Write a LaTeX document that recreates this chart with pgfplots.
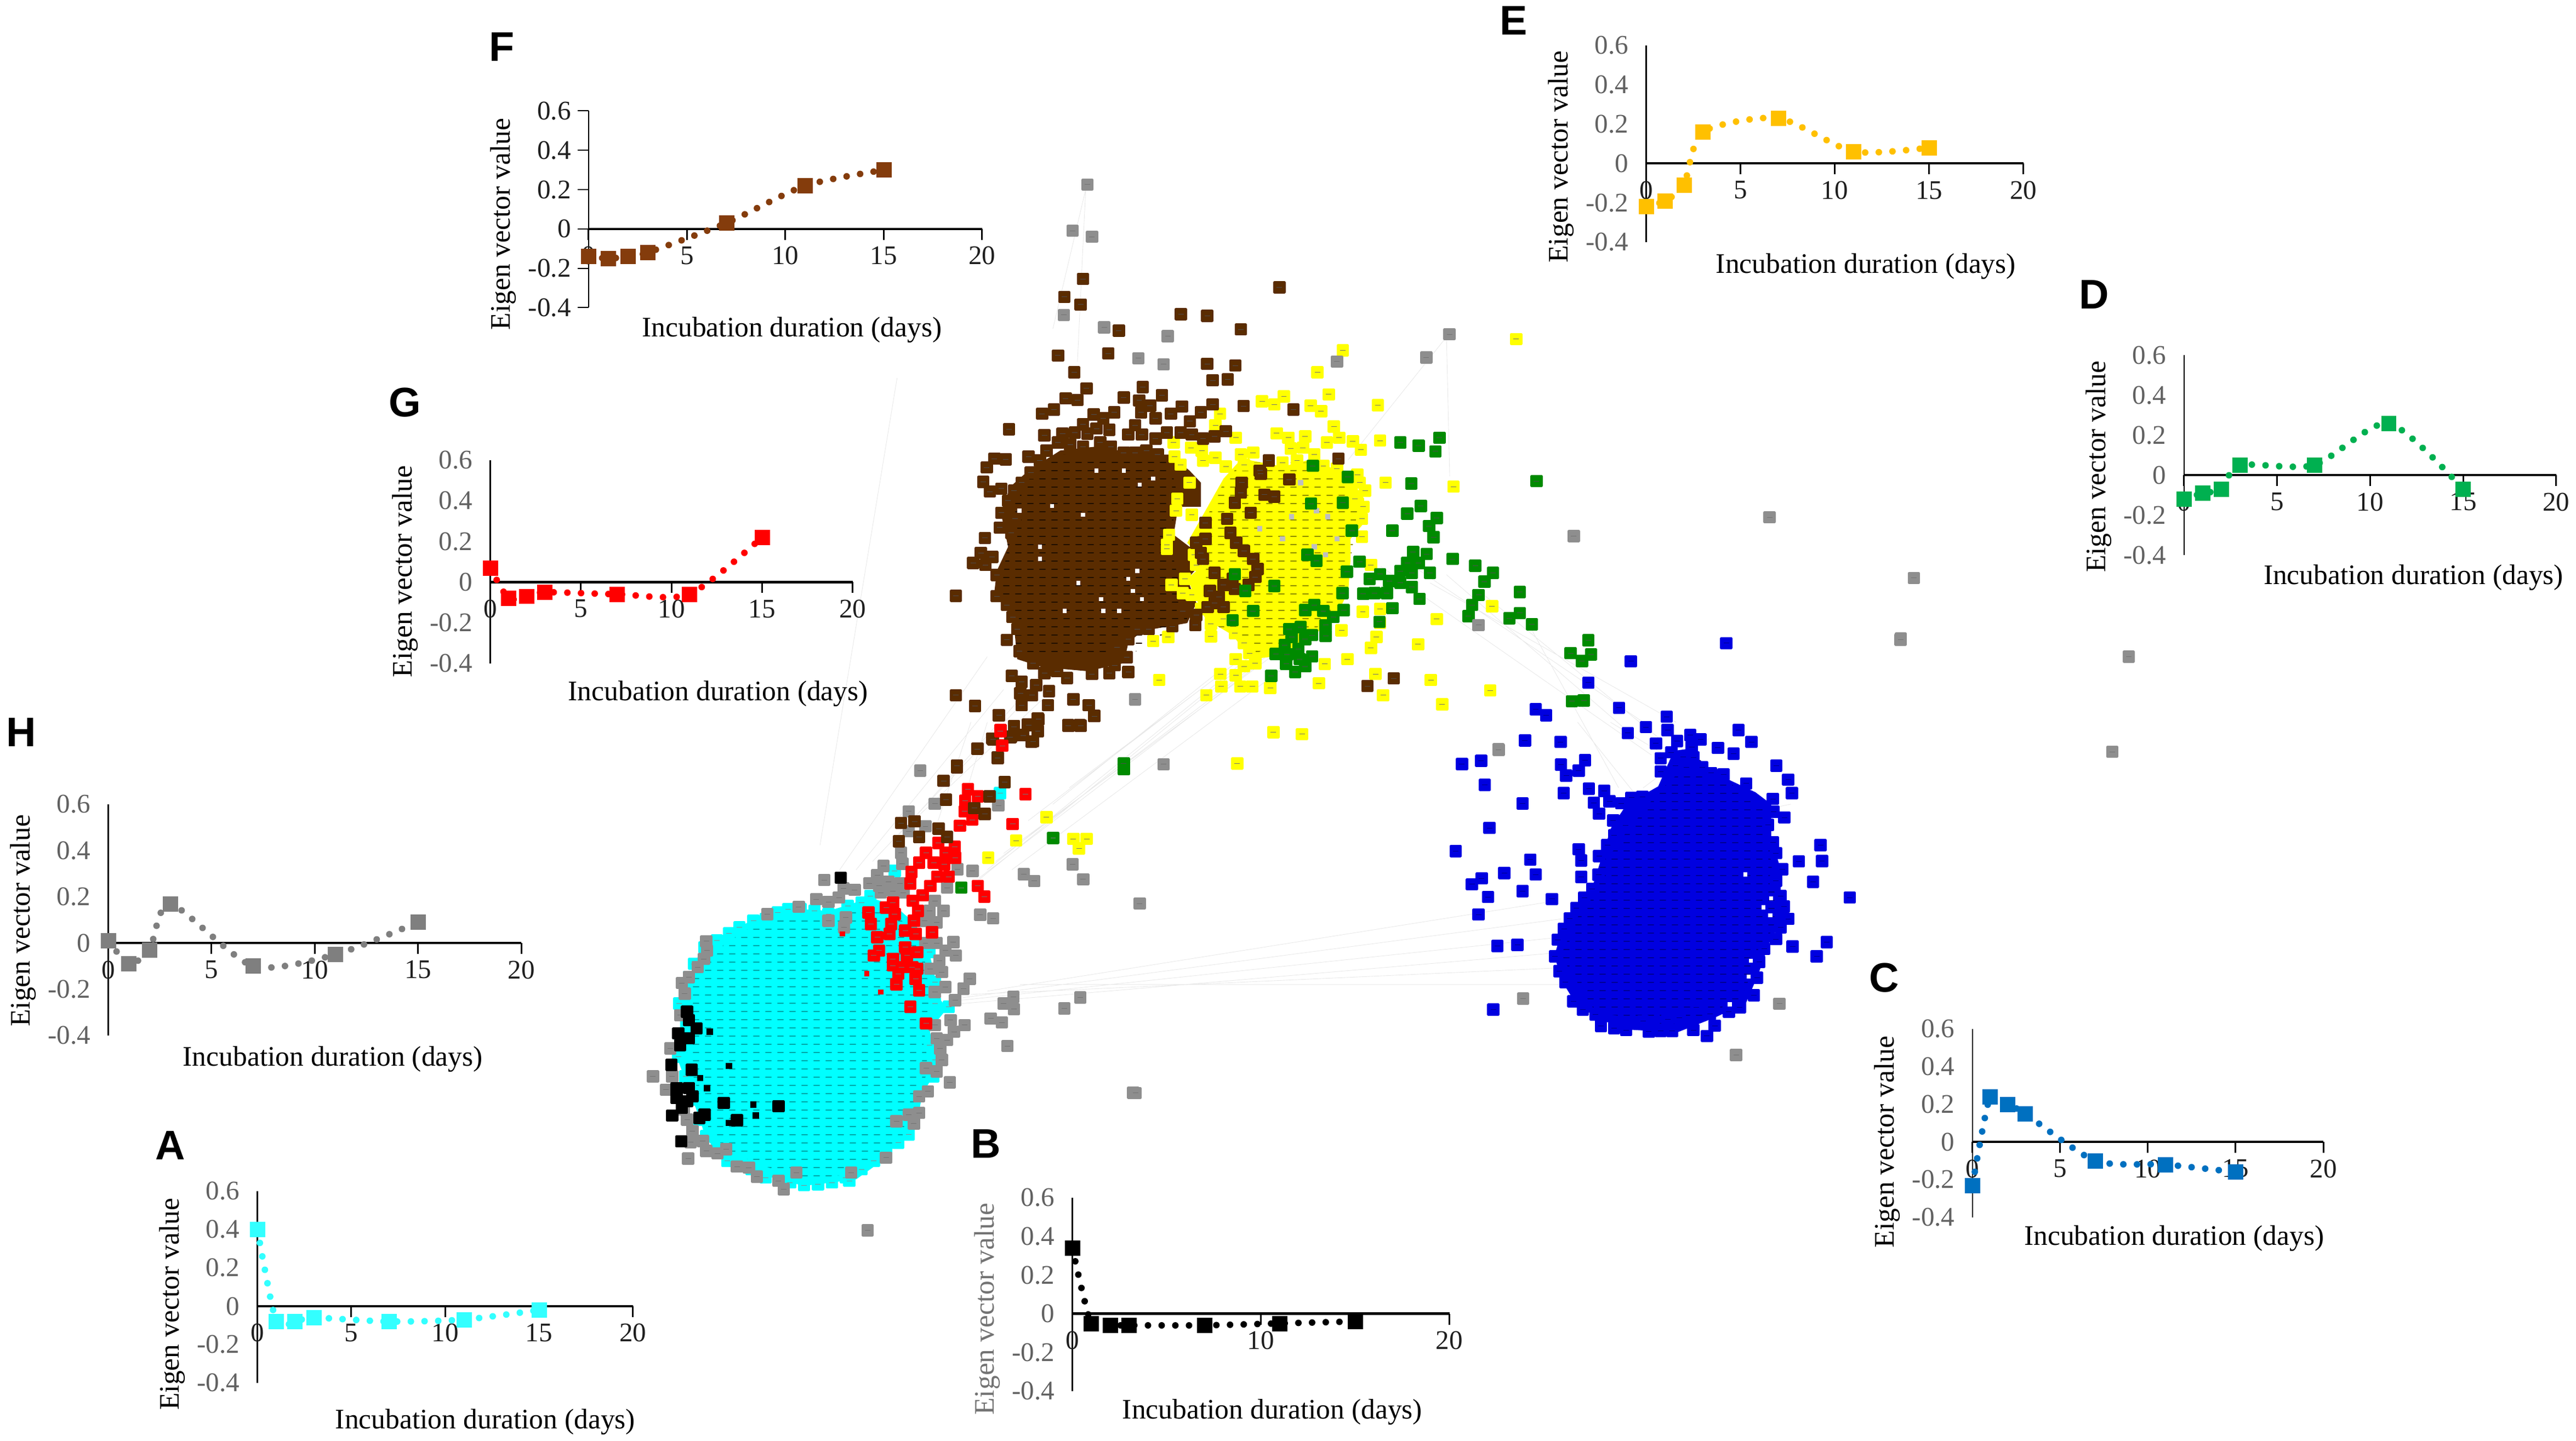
\documentclass[border=0pt]{standalone}
\usepackage{fontspec}
\setmainfont{Liberation Serif}
\newfontfamily\panelfont{Liberation Sans}
\usepackage{pgfplots}
\pgfplotsset{compat=1.18}
\usepackage{pgfplotstable}
\usetikzlibrary{patterns}

\definecolor{nodegray}{HTML}{8E8E8E}
\definecolor{nodebrown}{HTML}{5A2C00}
\definecolor{nodegreen}{HTML}{008A00}
\definecolor{nodeblue}{HTML}{0000E0}
\definecolor{nodecyan}{HTML}{00FFFF}
\definecolor{nodeyellow}{HTML}{FFFF00}
\definecolor{nodered}{HTML}{FF0000}
\definecolor{lineA}{HTML}{33FFFF}
\definecolor{lineC}{HTML}{0070C0}
\definecolor{lineD}{HTML}{00B050}
\definecolor{lineE}{HTML}{FFC000}
\definecolor{lineF}{HTML}{843C0C}
\definecolor{lineH}{HTML}{7F7F7F}

% tiny node labels inside the dense clusters
\pgfdeclarepatternformonly{labels}{\pgfqpoint{0pt}{0pt}}{\pgfqpoint{6.2pt}{4.4pt}}{\pgfqpoint{6.2pt}{4.4pt}}{%
  \pgfpathrectangle{\pgfqpoint{1pt}{1.5pt}}{\pgfqpoint{3.2pt}{0.55pt}}\pgfusepath{fill}}

% values: day, eigen vector value
\pgfplotstableread{
0 0.40
1 -0.08
2 -0.08
3 -0.06
7 -0.08
11 -0.07
15 -0.02
}\dataA
\pgfplotstableread{
0 0.34
1 -0.05
2 -0.06
3 -0.06
7 -0.06
11 -0.05
15 -0.04
}\dataB
\pgfplotstableread{
0 -0.23
1 0.24
2 0.20
3 0.15
7 -0.10
11 -0.12
15 -0.16
}\dataC
\pgfplotstableread{
0 -0.12
1 -0.09
2 -0.07
3 0.05
7 0.05
11 0.26
15 -0.07
}\dataD
\pgfplotstableread{
0 -0.22
1 -0.19
2 -0.11
3 0.16
7 0.23
11 0.06
15 0.08
}\dataE
\pgfplotstableread{
0 -0.14
1 -0.15
2 -0.14
3 -0.12
7 0.03
11 0.22
15 0.30
}\dataF
\pgfplotstableread{
0 0.07
1 -0.08
2 -0.07
3 -0.05
7 -0.06
11 -0.06
15 0.22
}\dataG
\pgfplotstableread{
0 0.01
1 -0.09
2 -0.03
3 0.17
7 -0.10
11 -0.05
15 0.09
}\dataH

\pgfplotsset{
  layer/.style n args={4}{scale only axis, hide axis, clip=false, at={(#1cm,#2cm)},
    width=#3cm, height=#4cm, xmin=0, xmax=1568, ymin=0, ymax=1568, y dir=reverse},
  netnode/.style={only marks, mark=square*, mark size=0.088cm,
    mark options={draw=#1, fill=#1, line width=0.05cm, line join=round}},
  netlabel/.style={only marks, mark=-, mark size=0.05cm,
    mark options={draw=#1, line width=0.25pt}},
  blob/.style={fill=#1, draw=none},
  % x0, y top, x1, y bottom, xlabel x, y, ylabel x, y: all in picture units
  geom/.code n args={8}{%
    \pgfmathsetmacro\pw{(#3-#1)*0.029974}%
    \pgfmathsetmacro\ph{(#4-#2)*0.029974}%
    \pgfmathsetmacro\px{#1*0.029974}%
    \pgfmathsetmacro\py{(876.8-#4)*0.029974}%
    \pgfmathsetmacro\lxa{(#5-#1)/(#3-#1)}%
    \pgfmathsetmacro\lya{(#4-#6)/(#4-#2)}%
    \pgfmathsetmacro\lxb{(#7-#1)/(#3-#1)}%
    \pgfmathsetmacro\lyb{(#4-#8)/(#4-#2)}%
    \pgfplotsset{width=\pw cm, height=\ph cm, at={(\px cm,\py cm)},
      every axis x label/.style={at={(axis description cs:\lxa,\lya)}, anchor=center, yshift=-0.05cm,
        font=\fontsize{14.7}{16}\selectfont},
      every axis y label/.style={at={(axis description cs:\lxb,\lyb)}, rotate=90, anchor=center,
        font=\fontsize{14.7}{16}\selectfont}}},
  panel/.style={scale only axis, clip=false, axis lines=middle, axis line style={-},
    x axis line style={line width=0.045cm}, y axis line style={line width=0.025cm},
    xmin=0, xmax=20, ymin=-0.4, ymax=0.6,
    xtick={0,5,10,15,20}, xticklabels={0,5,10,15,20},
    ytick={-0.4,-0.2,0,0.2,0.4,0.6}, yticklabels={-0.4,-0.2,0,0.2,0.4,0.6},
    hide obscured x ticks=false, hide obscured y ticks=false,
    tick align=outside, major tick length=0.2cm,
    x tick style={black, line width=0.03cm}, ytick style={draw=none},
    xticklabel style={font=\fontsize{14}{16}\selectfont, text=black!88},
    yticklabel style={font=\fontsize{14}{16}\selectfont, text=black!62},
    xlabel={Incubation duration (days)}, ylabel={Eigen vector value}},
  curve/.style={color=#1, smooth, tension=0.42, line width=0.12cm, line cap=round,
    dash pattern=on 0pt off 0.25cm, mark=square*, mark size=0.135cm,
    mark options={solid, line width=0.005cm}},
}
\newcommand\nodes[3][black!55]{%
  \addplot[netnode=#2] coordinates {#3};
  \addplot[netlabel=#1] coordinates {#3};}

\begin{document}
\begin{tikzpicture}
% whole picture, in 1568-wide picture units: edges, outliers and panel letters
\begin{axis}[scale only axis, hide axis, clip=false, at={(0cm,0cm)}, width=47cm, height=26.28cm,
  xmin=0, xmax=1568, ymin=0, ymax=876.8, y dir=reverse]
\addplot[black!9, line width=0.25pt, unbounded coords=jump] coordinates {
 (498,515) (545,230) (nan,nan) (510,530) (600,400) (nan,nan) (520,530) (610,420) (nan,nan)
 (530,525) (620,430) (nan,nan) (545,510) (625,420) (nan,nan) (555,500) (640,420) (nan,nan)
 (600,530) (760,400) (nan,nan) (605,525) (770,400) (nan,nan) (610,520) (780,395) (nan,nan)
 (615,530) (790,400) (nan,nan) (590,540) (750,410) (nan,nan) (625,500) (730,420) (nan,nan)
 (640,490) (740,410) (nan,nan) (650,480) (750,405) (nan,nan) (595,535) (765,405) (nan,nan)
 (580,610) (960,570) (nan,nan) (580,612) (955,580) (nan,nan) (585,608) (950,560) (nan,nan)
 (590,606) (945,590) (nan,nan) (600,604) (940,550) (nan,nan) (620,600) (960,600) (nan,nan)
 (860,345) (1000,440) (nan,nan) (880,350) (990,445) (nan,nan) (900,360) (1010,450) (nan,nan)
 (870,355) (1020,440) (nan,nan) (840,345) (1005,460) (nan,nan) (930,380) (985,480) (nan,nan)
 (820,280) (880,205) (nan,nan) (880,205) (882,290) (nan,nan) (660,115) (640,200) (nan,nan)
 (660,115) (655,220) (nan,nan) (960,440) (1000,490) (nan,nan) (980,440) (1030,470) (nan,nan)
 (1040,450) (1000,480) (nan,nan) (1090,490) (1040,500) (nan,nan) (590,440) (570,500) (nan,nan)
 (600,440) (585,490)
};
\nodes{nodegray}{(1165,352)(1157,389)(1296,400)(1286,458)(1077,315)(689,666)(527,750)}
\foreach \l/\x/\y in {A/102/698,B/599/697,C/1147/596,D/1275/179,E/921/12,F/304/28,G/245/245,H/11/446}{
  \edef\temp{\noexpand\node[font=\noexpand\panelfont\noexpand\bfseries\noexpand\fontsize{21.5}{24}\noexpand\selectfont] at (axis cs:\x,\y) {\l};}\temp}
\end{axis}

% dense left cluster, in the units of a 1000x950 window
\begin{axis}[layer={11}{3.78}{10}{9.5}]
\addplot[blob=nodecyan] coordinates {(215,880)(240,800)(265,740)(310,690)(350,665)(420,630)(490,605)(560,595)(640,600)(690,585)(760,560)(830,585)(890,640)(930,730)(945,800)(955,860)(980,895)(930,960)(945,1040)(940,1100)(910,1150)(895,1230)(880,1275)(830,1310)(800,1350)(720,1410)(650,1420)(570,1430)(490,1410)(430,1385)(350,1350)(290,1290)(265,1210)(240,1140)(205,1040)(215,950)} -- cycle;
\addplot[draw=none, pattern=labels, pattern color=black!35!nodecyan] coordinates {(240,880)(265,760)(330,700)(420,650)(560,610)(680,610)(760,590)(830,610)(880,660)(915,740)(930,860)(915,960)(925,1090)(890,1150)(870,1270)(790,1330)(700,1395)(570,1410)(440,1365)(360,1330)(300,1270)(280,1190)(235,1040)} -- cycle;
\nodes[black!45]{nodecyan}{(355,668)(385,650)(425,630)(460,625)(495,605)(525,595)(560,595)(600,600)(640,610)(695,585)(735,575)(760,555)(830,480)(1132,245)(700,1415)(735,1380)(770,1355)(805,1330)(840,1300)(870,1275)(570,1428)(610,1425)(650,1420)(690,1405)(460,1405)(500,1415)(530,1420)(350,1355)(390,1365)(420,1380)(320,1320)(290,1280)(270,1230)(250,1170)(230,1100)(210,1040)(215,980)(212,880)(240,800)(255,760)(285,710)(320,690)(940,1100)(945,1050)(930,1005)(985,890)(945,880)(945,815)(930,725)}
\nodes{nodegray}{(903,177)(945,277)(1127,282)(870,300)(918,345)(870,360)(848,425)(852,458)(798,465)(780,492)(628,507)(683,533)(715,537)(757,517)(785,525)(812,512)(845,518)(825,540)(855,545)(790,545)(1010,475)(1053,480)(1200,490)(1230,510)(1340,460)(1370,505)(980,530)(670,560)(640,573)(605,565)(555,588)(465,610)(945,570)(970,600)(930,600)(950,635)(915,630)(1075,612)(1112,623)(1532,578)(998,695)(950,697)(918,697)(975,720)(1005,735)(958,750)(932,775)(965,785)(1045,805)(1027,835)(975,830)(1003,870)(945,845)(1170,860)(1142,880)(1172,897)(1362,862)(1316,895)(1105,925)(1137,937)(990,930)(1030,945)(945,945)(1000,965)(950,985)(980,990)(1153,1008)(960,1015)(965,1050)(920,1075)(950,1085)(988,1118)(925,1145)(900,1160)(1520,1150)(290,692)(292,720)(283,745)(265,770)(240,800)(220,818)(228,850)(215,915)(187,1015)(137,1100)(192,1100)(175,1140)(225,1200)(235,1230)(250,1265)(245,1298)(280,1295)(290,1325)(322,1332)(347,1320)(238,1348)(378,1372)(412,1375)(435,1402)(497,1415)(512,1440)(548,1390)(705,1390)(805,1345)(835,1235)(885,1242)(900,1210)(870,1215)(690,620)(685,650)(640,630)}
\nodes{nodered}{(1133,55)(1138,100)(1040,233)(1068,255)(1032,268)(1205,248)(1030,300)(1052,325)(1017,343)(1168,338)(955,395)(1002,407)(975,425)(920,425)(1003,440)(972,460)(942,455)(900,455)(878,483)(985,497)(952,497)(875,518)(932,525)(1068,525)(1087,557)(910,553)(882,570)(825,575)(805,590)(897,600)(830,610)(755,605)(762,640)(820,640)(885,630)(860,660)(815,670)(937,665)(890,670)(780,680)(860,710)(895,725)(785,720)(770,735)(825,745)(850,770)(880,770)(825,765)(840,790)(895,775)(890,805)(900,840)(835,822)(875,890)(920,940)(865,735)}
\addplot[only marks, mark=square*, mark size=0.04cm, nodered] coordinates {(750,790)(790,845)(680,670)};
\nodes[black]{black}{(675,500)(235,905)(240,930)(262,955)(210,970)(215,1005)(240,985)(190,1065)(248,1080)(205,1135)(240,1135)(250,1160)(205,1165)(235,1175)(220,1195)(192,1218)(270,1225)(285,1215)(378,1232)(218,1296)(497,1190)(340,1180)}
\addplot[only marks, mark=square*, mark size=0.05cm, black] coordinates {(355,1068)(292,1135)(425,1185)(432,1218)(355,1240)(300,965)(272,1105)};
\nodes[black!70]{nodebrown}{(1128,10)(1172,42)(1240,20)(1212,38)(1240,58)(1198,70)(1163,75)(1110,80)(1222,90)(1067,110)(1125,137)(1327,40)(1360,40)(1402,12)(1008,167)(970,208)(1145,212)(977,265)(1102,255)(1058,290)(1088,308)(848,335)(887,330)(956,352)(980,377)(900,377)(842,390)}
\nodes{nodeyellow}{(1265,318)(1178,388)(1342,383)(1380,383)(1358,412)(1098,440)}
\nodes{nodegreen}{(1487,173)(1284,380)(1021,530)}
\end{axis}

% brown, yellow and green clusters, in the units of a 1300x1150 window
\begin{axis}[layer={16.5}{12.28}{13}{11.5}]
\addplot[blob=nodeyellow] coordinates {(740,800)(830,820)(900,800)(980,850)(1010,900)(1010,960)(980,1000)(980,1050)(975,1130)(950,1190)(900,1240)(840,1290)(760,1300)(720,1240)(660,1200)(620,1100)(660,1060)(620,1010)(660,930)(700,850)} -- cycle;
\addplot[draw=none, pattern=labels, pattern color=black!45!nodeyellow] coordinates {(740,810)(900,810)(1000,900)(970,1130)(900,1230)(760,1290)(660,1190)(640,1000)(700,860)} -- cycle;
\addplot[only marks, mark=square*, mark size=0.04cm, black!25] coordinates {(850,945)(930,945)(900,1020)(925,1040)(870,860)(780,975)(950,1000)(830,1000)(905,930)};
\addplot[blob=nodebrown] coordinates {(230,870)(270,830)(340,780)(420,770)(520,790)(580,790)(625,830)(650,860)(650,920)(600,920)(590,990)(660,1050)(620,1100)(640,1160)(620,1210)(520,1230)(490,1260)(480,1310)(400,1330)(300,1320)(245,1300)(240,1240)(230,1190)(195,1130)(200,1080)(225,1020)(210,940)(220,900)} -- cycle;
\addplot[draw=none, pattern=labels, pattern color=black!65!nodebrown] coordinates {(240,880)(340,790)(580,800)(600,900)(580,1000)(620,1200)(480,1300)(250,1290)(210,1130)} -- cycle;
\addplot[only marks, mark=square*, mark size=0.03cm, white] coordinates {(322,918)(515,865)(545,850)(295,1050)(390,940)(490,1100)(510,1080)(500,1130)(470,1180)(435,1180)(380,1110)(430,1150)(520,1150)(295,1020)(250,930)(420,830)(480,830)(350,1180)};
\nodes{nodeyellow}{(963,530)(907,585)(1345,502)(932,640)(833,645)(785,657)(812,665)(892,668)(915,682)(1040,667)(692,688)(682,717)(943,720)(817,737)(843,748)(880,745)(727,748)(955,748)(928,760)(985,757)(1045,755)(1003,778)(848,775)(875,773)(900,790)(590,760)(628,773)(592,795)(652,780)(655,805)(682,798)(605,815)(738,790)(765,785)(745,815)(705,820)(830,810)(862,805)(920,818)(950,825)(995,840)(1012,880)(1057,860)(1207,870)(990,900)(1008,920)(1005,950)(1005,995)(1000,860)(598,900)(595,930)(580,990)(575,1015)(575,1025)(625,860)(630,940)(635,1040)(640,1065)(615,1100)(585,1115)(610,1135)(630,1140)(1025,1065)(1007,1182)(1045,1175)(1170,1200)(1292,1168)(960,1228)(1037,1245)(1025,1272)(1129,1263)(545,1255)(578,1245)(672,1243)(1045,1210)(973,1300)(923,1312)(1035,1337)(1157,1352)(1288,1378)(1182,1413)(1052,1390)(910,1360)(803,1372)(763,1368)(737,1368)(695,1368)(693,1337)(727,1340)(662,1390)(558,1352)(745,1318)(770,1310)(727,1300)(757,1285)(810,1482)(873,1487)(730,1560)(650,1175)(672,1212)(700,1200)(725,1235)(745,1260)}
\nodes[black!70]{nodebrown}{(740,860)(738,885)(725,910)(760,935)(708,950)(715,985)(728,1010)(745,1030)(765,1050)(775,1075)(770,1095)(755,1115)(720,1100)(700,1115)(725,1125)(690,1145)(660,960)(660,1000)(640,1010)(655,1050)(650,1035)(680,1085)(670,1130)(700,1170)(680,1160)(780,830)(800,805)(790,890)(812,895)(953,800)(845,852)(782,838)(1017,1367)(1075,1348)(390,352)(349,397)(385,416)(469,481)(606,440)(664,444)(738,478)(823,373)(335,543)(446,538)(371,585)(664,564)(726,568)(676,605)(709,603)(398,625)(522,622)(352,650)(378,654)(480,648)(564,642)(514,655)(538,668)(608,670)(676,665)(744,669)(854,678)(300,688)(326,678)(414,690)(459,685)(518,685)(584,688)(650,685)(550,700)(626,707)(435,700)(227,727)(390,715)(505,717)(305,742)(345,738)(372,735)(400,738)(420,725)(448,728)(490,740)(520,740)(550,750)(575,735)(605,735)(630,740)(655,750)(680,745)(705,732)(335,760)(362,765)(390,770)(428,760)(452,770)(480,785)(505,785)(530,780)(555,790)(310,780)(195,800)(220,802)(270,795)(295,805)(178,822)(170,858)(185,882)(210,875)(275,835)(255,860)(238,880)(225,905)(210,935)(240,950)(207,972)(232,985)(174,998)(165,1035)(190,1045)(148,1060)(175,1065)(110,1142)(200,1090)(200,1143)(222,1165)(235,1195)(245,1225)(222,1252)(250,1280)(280,1310)(305,1335)(333,1330)(355,1347)(233,1342)(255,1357)(287,1365)(252,1385)(315,1380)(278,1390)(110,1390)(152,1417)(255,1415)(313,1415)(369,1400)(403,1415)(415,1442)(205,1440)(238,1468)(292,1450)(270,1465)(358,1466)(385,1466)(192,1500)(230,1495)(258,1490)(280,1505)(157,1524)(202,1547)(112,1565)(490,1332)(448,1335)(410,1337)(490,1250)(465,1270)(487,1295)(460,1315)(535,1225)(510,1225)(587,1218)(638,1215)(640,1190)(610,1180)(665,1170)}
\nodes[black!70]{nodegreen}{(1090,760)(1130,768)(1176,748)(1167,782)(1390,856)(897,818)(974,846)(1114,862)(893,912)(963,910)(1135,918)(1105,937)(1170,948)(1153,968)(1072,980)(983,980)(1163,996)(1118,1033)(1148,1038)(1205,1050)(885,1040)(905,1055)(1105,1060)(1130,1060)(1000,1057)(1090,1080)(1115,1085)(1155,1085)(1045,1088)(972,1082)(1022,1100)(1065,1105)(1090,1110)(1115,1120)(725,1088)(812,1118)(748,1130)(1008,1137)(1033,1135)(1060,1135)(962,1135)(1132,1150)(1255,1067)(1294,1085)(1275,1107)(1353,1133)(1262,1140)(1248,1165)(1072,1173)(1240,1193)(1353,1185)(1330,1198)(1380,1213)(1044,1207)(900,1165)(880,1178)(965,1178)(942,1195)(920,1180)(720,1203)(765,1180)(925,1215)(925,1242)(895,1240)(870,1220)(845,1225)(850,1245)(880,1250)(835,1265)(865,1275)(895,1293)(815,1287)(840,1288)(868,1300)(838,1312)(880,1318)(858,1332)(805,1342)(1504,1253)(1465,1285)(1510,1288)(1490,1305)(1468,1405)(1494,1403)(480,1560)}
\nodes{nodegray}{(400,117)(367,232)(410,247)(348,442)(437,473)(577,495)(512,550)(568,565)(1198,490)(1147,548)(950,558)(1472,993)(1262,1215)(505,1400)(1306,1525)(568,1562)}
\nodes{nodered}{(208,1480)(212,1516)}
\end{axis}

% blue cluster, in the units of a 900x850 window
\begin{axis}[layer={26}{6.78}{9}{8.5}]
\addplot[blob=nodeblue] coordinates {(740,620)(790,500)(860,490)(880,560)(950,590)(1050,640)(1100,680)(1100,790)(1130,900)(1130,1000)(1150,1060)(1100,1130)(1060,1250)(1020,1350)(920,1400)(800,1450)(640,1440)(540,1400)(470,1340)(430,1270)(410,1190)(440,1080)(480,1020)(530,960)(560,860)(590,760)(640,680)} -- cycle;
\addplot[draw=none, pattern=labels, pattern color=black!35!nodeblue] coordinates {(740,640)(860,520)(1080,700)(1120,1060)(1000,1340)(800,1430)(540,1380)(430,1190)(560,880)} -- cycle;
\nodes[black!40!nodeblue]{nodeblue}{(957,137)(653,198)(518,270)(615,355)(350,360)(383,380)(767,385)(701,420)(770,430)(643,440)(996,430)(842,447)(875,462)(316,465)(429,470)(733,475)(800,467)(1037,470)(847,487)(930,490)(980,510)(782,505)(748,525)(820,520)(853,522)(507,532)(115,545)(176,534)(430,547)(1116,550)(487,567)(447,584)(748,570)(795,550)(830,555)(880,555)(908,575)(948,580)(1154,597)(1020,610)(188,615)(519,628)(568,635)(439,643)(1166,643)(655,658)(690,655)(1105,662)(308,678)(535,675)(585,670)(622,677)(552,712)(1107,705)(1142,725)(597,735)(636,752)(203,760)(1090,750)(600,785)(95,838)(487,832)(1257,818)(1105,808)(578,818)(552,855)(1115,845)(1188,873)(1262,872)(333,867)(495,870)(1135,900)(250,912)(350,917)(178,930)(495,925)(550,918)(147,950)(1233,942)(1115,938)(530,965)(308,973)(198,993)(402,1000)(1350,995)(505,995)(1130,990)(480,1030)(1140,1025)(168,1052)(458,1065)(1155,1067)(440,1100)(1130,1095)(420,1137)(1115,1135)(1277,1145)(228,1158)(292,1155)(1168,1160)(1078,1168)(412,1193)(1245,1193)(1062,1212)(425,1243)(1055,1265)(1045,1325)(445,1280)(470,1345)(215,1373)(1000,1365)(500,1373)(965,1380)(905,1388)(862,1365)(540,1390)(920,1427)(558,1428)(600,1435)(638,1442)(710,1447)(748,1445)(785,1445)(852,1442)(895,1462)(808,1400)(770,1405)(692,1412)}
\addplot[only marks, mark=square*, mark size=0.03cm, white] coordinates {(1018,917)(1100,997)(1075,1028)(1097,1055)(968,1355)(1035,1208)(1028,1262)};
\nodes{nodegray}{(232,497)(1512,125)(310,1336)(1126,1353)(988,1526)}
\end{axis}

% the eight eigen vector panels
\begin{axis}[panel, geom={155}{726}{384}{843}{294}{865}{103}{795}]
\addplot[curve=lineA] table {\dataA};
\end{axis}
\begin{axis}[panel, geom={652}{730}{882}{848}{774}{859}{600}{798}, xtick={0,10,20}, xticklabels={0,10,20},
  ylabel style={text=black!55}]
\addplot[curve=black] table {\dataB};
\end{axis}
\begin{axis}[panel, geom={1201}{627}{1415}{742}{1324}{753}{1149}{696}]
\addplot[curve=lineC] table {\dataC};
\end{axis}
\begin{axis}[panel, geom={1330}{216}{1557}{338}{1470}{350}{1278}{284}]
\addplot[curve=lineD] table {\dataD};
\end{axis}
\begin{axis}[panel, geom={1002}{27}{1232}{147}{1136}{160}{950}{95}]
\addplot[curve=lineE] table {\dataE};
\end{axis}
\begin{axis}[panel, geom={357}{67}{597}{187}{481}{199}{305}{136}, ytick style={draw=black, line width=0.02cm},
  yticklabel style={text=black!88}]
\addplot[curve=lineF] table {\dataF};
\end{axis}
\begin{axis}[panel, geom={297}{280}{518}{404}{436}{421}{245}{348}]
\addplot[curve=nodered] table {\dataG};
\end{axis}
\begin{axis}[panel, geom={64}{490}{316}{631}{201}{644}{12}{561}]
\addplot[curve=lineH] table {\dataH};
\end{axis}
\end{tikzpicture}
\end{document}
